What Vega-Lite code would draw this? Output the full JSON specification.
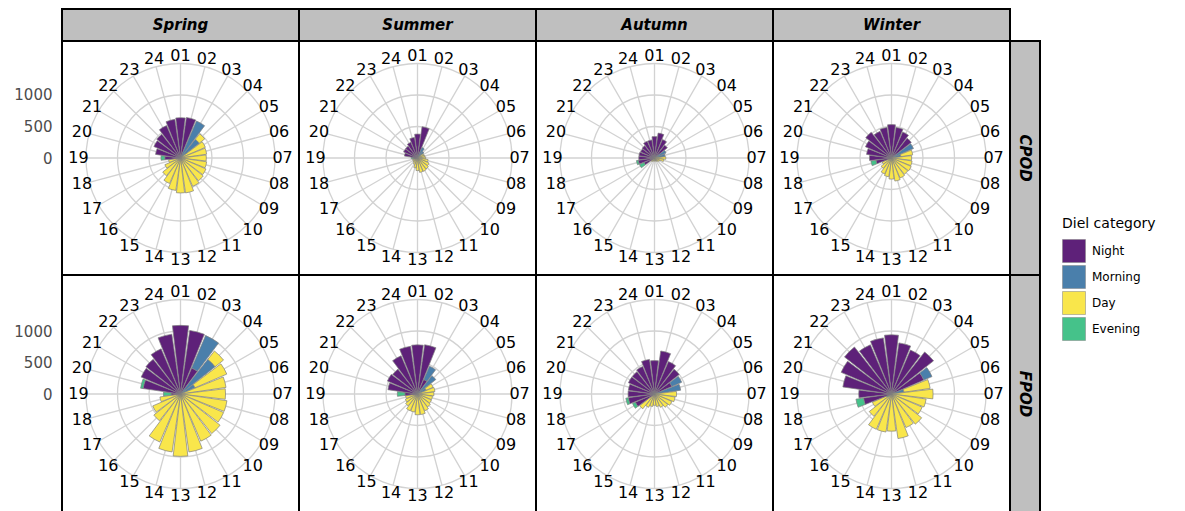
{
"$schema": "https://vega.github.io/schema/vega-lite/v6.json",
"background": "white",
"padding": {"left": 12, "top": 8, "right": 0, "bottom": 0},
"spacing": 0,
"bounds": "flush",
"columns": 5,
"config": {"view": {"stroke": null}, "font": "DejaVu Sans"},
"resolve": {"scale": {"color": "shared", "theta": "independent"}, "legend": {"color": "shared"}},
"datasets": {
"hours": [{"h":"01"},{"h":"02"},{"h":"03"},{"h":"04"},{"h":"05"},{"h":"06"},{"h":"07"},{"h":"08"},{"h":"09"},{"h":"10"},{"h":"11"},{"h":"12"},{"h":"13"},{"h":"14"},{"h":"15"},{"h":"16"},{"h":"17"},{"h":"18"},{"h":"19"},{"h":"20"},{"h":"21"},{"h":"22"},{"h":"23"},{"h":"24"}],
"rings": [{"r":500},{"r":1000},{"r":1500}],
"bars": [
{"s":"Spring","d":"CPOD","h":"01","c":"Night","n":640},{"s":"Spring","d":"CPOD","h":"02","c":"Night","n":650},{"s":"Spring","d":"CPOD","h":"03","c":"Morning","n":640},{"s":"Spring","d":"CPOD","h":"04","c":"Morning","n":380},{"s":"Spring","d":"CPOD","h":"04","c":"Day","n":110},{"s":"Spring","d":"CPOD","h":"05","c":"Day","n":430},{"s":"Spring","d":"CPOD","h":"06","c":"Day","n":420},{"s":"Spring","d":"CPOD","h":"07","c":"Day","n":410},{"s":"Spring","d":"CPOD","h":"08","c":"Day","n":420},{"s":"Spring","d":"CPOD","h":"09","c":"Day","n":440},{"s":"Spring","d":"CPOD","h":"10","c":"Day","n":460},{"s":"Spring","d":"CPOD","h":"11","c":"Day","n":490},{"s":"Spring","d":"CPOD","h":"12","c":"Day","n":560},{"s":"Spring","d":"CPOD","h":"13","c":"Day","n":555},{"s":"Spring","d":"CPOD","h":"14","c":"Day","n":520},{"s":"Spring","d":"CPOD","h":"15","c":"Day","n":440},{"s":"Spring","d":"CPOD","h":"16","c":"Day","n":360},{"s":"Spring","d":"CPOD","h":"17","c":"Day","n":270},{"s":"Spring","d":"CPOD","h":"18","c":"Day","n":190},{"s":"Spring","d":"CPOD","h":"19","c":"Night","n":250},{"s":"Spring","d":"CPOD","h":"19","c":"Evening","n":60},{"s":"Spring","d":"CPOD","h":"20","c":"Night","n":400},{"s":"Spring","d":"CPOD","h":"21","c":"Night","n":460},{"s":"Spring","d":"CPOD","h":"22","c":"Night","n":480},{"s":"Spring","d":"CPOD","h":"23","c":"Night","n":560},{"s":"Spring","d":"CPOD","h":"24","c":"Night","n":620},
{"s":"Summer","d":"CPOD","h":"01","c":"Night","n":380},{"s":"Summer","d":"CPOD","h":"02","c":"Night","n":500},{"s":"Summer","d":"CPOD","h":"03","c":"Morning","n":180},{"s":"Summer","d":"CPOD","h":"04","c":"Morning","n":130},{"s":"Summer","d":"CPOD","h":"05","c":"Day","n":110},{"s":"Summer","d":"CPOD","h":"06","c":"Day","n":120},{"s":"Summer","d":"CPOD","h":"07","c":"Day","n":130},{"s":"Summer","d":"CPOD","h":"08","c":"Day","n":170},{"s":"Summer","d":"CPOD","h":"09","c":"Day","n":200},{"s":"Summer","d":"CPOD","h":"10","c":"Day","n":220},{"s":"Summer","d":"CPOD","h":"11","c":"Day","n":230},{"s":"Summer","d":"CPOD","h":"12","c":"Day","n":230},{"s":"Summer","d":"CPOD","h":"13","c":"Day","n":200},{"s":"Summer","d":"CPOD","h":"14","c":"Day","n":160},{"s":"Summer","d":"CPOD","h":"15","c":"Day","n":110},{"s":"Summer","d":"CPOD","h":"16","c":"Day","n":90},{"s":"Summer","d":"CPOD","h":"17","c":"Day","n":80},{"s":"Summer","d":"CPOD","h":"18","c":"Day","n":80},{"s":"Summer","d":"CPOD","h":"19","c":"Night","n":60},{"s":"Summer","d":"CPOD","h":"19","c":"Evening","n":40},{"s":"Summer","d":"CPOD","h":"20","c":"Night","n":210},{"s":"Summer","d":"CPOD","h":"21","c":"Night","n":240},{"s":"Summer","d":"CPOD","h":"22","c":"Night","n":240},{"s":"Summer","d":"CPOD","h":"23","c":"Night","n":270},{"s":"Summer","d":"CPOD","h":"24","c":"Night","n":330},
{"s":"Autumn","d":"CPOD","h":"01","c":"Night","n":340},{"s":"Autumn","d":"CPOD","h":"02","c":"Night","n":400},{"s":"Autumn","d":"CPOD","h":"03","c":"Night","n":320},{"s":"Autumn","d":"CPOD","h":"04","c":"Night","n":260},{"s":"Autumn","d":"CPOD","h":"05","c":"Morning","n":200},{"s":"Autumn","d":"CPOD","h":"06","c":"Morning","n":170},{"s":"Autumn","d":"CPOD","h":"07","c":"Day","n":180},{"s":"Autumn","d":"CPOD","h":"08","c":"Day","n":150},{"s":"Autumn","d":"CPOD","h":"09","c":"Day","n":90},{"s":"Autumn","d":"CPOD","h":"10","c":"Day","n":70},{"s":"Autumn","d":"CPOD","h":"11","c":"Day","n":60},{"s":"Autumn","d":"CPOD","h":"12","c":"Day","n":50},{"s":"Autumn","d":"CPOD","h":"13","c":"Day","n":50},{"s":"Autumn","d":"CPOD","h":"14","c":"Day","n":50},{"s":"Autumn","d":"CPOD","h":"15","c":"Day","n":60},{"s":"Autumn","d":"CPOD","h":"16","c":"Day","n":70},{"s":"Autumn","d":"CPOD","h":"17","c":"Night","n":180},{"s":"Autumn","d":"CPOD","h":"17","c":"Evening","n":80},{"s":"Autumn","d":"CPOD","h":"18","c":"Night","n":260},{"s":"Autumn","d":"CPOD","h":"18","c":"Evening","n":30},{"s":"Autumn","d":"CPOD","h":"19","c":"Night","n":250},{"s":"Autumn","d":"CPOD","h":"20","c":"Night","n":250},{"s":"Autumn","d":"CPOD","h":"21","c":"Night","n":240},{"s":"Autumn","d":"CPOD","h":"22","c":"Night","n":250},{"s":"Autumn","d":"CPOD","h":"23","c":"Night","n":290},{"s":"Autumn","d":"CPOD","h":"24","c":"Night","n":290},
{"s":"Winter","d":"CPOD","h":"01","c":"Night","n":530},{"s":"Winter","d":"CPOD","h":"02","c":"Night","n":490},{"s":"Winter","d":"CPOD","h":"03","c":"Night","n":450},{"s":"Winter","d":"CPOD","h":"04","c":"Night","n":400},{"s":"Winter","d":"CPOD","h":"05","c":"Morning","n":380},{"s":"Winter","d":"CPOD","h":"06","c":"Morning","n":150},{"s":"Winter","d":"CPOD","h":"06","c":"Day","n":190},{"s":"Winter","d":"CPOD","h":"07","c":"Day","n":320},{"s":"Winter","d":"CPOD","h":"08","c":"Day","n":330},{"s":"Winter","d":"CPOD","h":"09","c":"Day","n":340},{"s":"Winter","d":"CPOD","h":"10","c":"Day","n":330},{"s":"Winter","d":"CPOD","h":"11","c":"Day","n":345},{"s":"Winter","d":"CPOD","h":"12","c":"Day","n":370},{"s":"Winter","d":"CPOD","h":"13","c":"Day","n":335},{"s":"Winter","d":"CPOD","h":"14","c":"Day","n":300},{"s":"Winter","d":"CPOD","h":"15","c":"Day","n":275},{"s":"Winter","d":"CPOD","h":"16","c":"Day","n":210},{"s":"Winter","d":"CPOD","h":"17","c":"Day","n":160},{"s":"Winter","d":"CPOD","h":"18","c":"Night","n":250},{"s":"Winter","d":"CPOD","h":"18","c":"Evening","n":80},{"s":"Winter","d":"CPOD","h":"19","c":"Night","n":350},{"s":"Winter","d":"CPOD","h":"20","c":"Night","n":400},{"s":"Winter","d":"CPOD","h":"21","c":"Night","n":450},{"s":"Winter","d":"CPOD","h":"22","c":"Night","n":520},{"s":"Winter","d":"CPOD","h":"23","c":"Night","n":460},{"s":"Winter","d":"CPOD","h":"24","c":"Night","n":490},
{"s":"Spring","d":"FPOD","h":"01","c":"Night","n":1090},{"s":"Spring","d":"FPOD","h":"02","c":"Night","n":1020},{"s":"Spring","d":"FPOD","h":"03","c":"Night","n":450},{"s":"Spring","d":"FPOD","h":"03","c":"Morning","n":560},{"s":"Spring","d":"FPOD","h":"04","c":"Morning","n":700},{"s":"Spring","d":"FPOD","h":"04","c":"Day","n":170},{"s":"Spring","d":"FPOD","h":"05","c":"Morning","n":250},{"s":"Spring","d":"FPOD","h":"05","c":"Day","n":550},{"s":"Spring","d":"FPOD","h":"06","c":"Day","n":730},{"s":"Spring","d":"FPOD","h":"07","c":"Day","n":715},{"s":"Spring","d":"FPOD","h":"08","c":"Day","n":745},{"s":"Spring","d":"FPOD","h":"09","c":"Day","n":745},{"s":"Spring","d":"FPOD","h":"10","c":"Day","n":800},{"s":"Spring","d":"FPOD","h":"11","c":"Day","n":815},{"s":"Spring","d":"FPOD","h":"12","c":"Day","n":930},{"s":"Spring","d":"FPOD","h":"13","c":"Day","n":990},{"s":"Spring","d":"FPOD","h":"14","c":"Day","n":930},{"s":"Spring","d":"FPOD","h":"15","c":"Day","n":830},{"s":"Spring","d":"FPOD","h":"16","c":"Day","n":540},{"s":"Spring","d":"FPOD","h":"17","c":"Day","n":480},{"s":"Spring","d":"FPOD","h":"18","c":"Day","n":330},{"s":"Spring","d":"FPOD","h":"19","c":"Night","n":150},{"s":"Spring","d":"FPOD","h":"19","c":"Evening","n":120},{"s":"Spring","d":"FPOD","h":"20","c":"Night","n":600},{"s":"Spring","d":"FPOD","h":"20","c":"Evening","n":40},{"s":"Spring","d":"FPOD","h":"21","c":"Night","n":680},{"s":"Spring","d":"FPOD","h":"22","c":"Night","n":700},{"s":"Spring","d":"FPOD","h":"23","c":"Night","n":780},{"s":"Spring","d":"FPOD","h":"24","c":"Night","n":960},
{"s":"Summer","d":"FPOD","h":"01","c":"Night","n":780},{"s":"Summer","d":"FPOD","h":"02","c":"Night","n":790},{"s":"Summer","d":"FPOD","h":"03","c":"Night","n":250},{"s":"Summer","d":"FPOD","h":"03","c":"Morning","n":230},{"s":"Summer","d":"FPOD","h":"04","c":"Morning","n":370},{"s":"Summer","d":"FPOD","h":"05","c":"Morning","n":150},{"s":"Summer","d":"FPOD","h":"05","c":"Day","n":120},{"s":"Summer","d":"FPOD","h":"06","c":"Day","n":280},{"s":"Summer","d":"FPOD","h":"07","c":"Day","n":260},{"s":"Summer","d":"FPOD","h":"08","c":"Day","n":240},{"s":"Summer","d":"FPOD","h":"09","c":"Day","n":240},{"s":"Summer","d":"FPOD","h":"10","c":"Day","n":260},{"s":"Summer","d":"FPOD","h":"11","c":"Day","n":290},{"s":"Summer","d":"FPOD","h":"12","c":"Day","n":330},{"s":"Summer","d":"FPOD","h":"13","c":"Day","n":330},{"s":"Summer","d":"FPOD","h":"14","c":"Day","n":290},{"s":"Summer","d":"FPOD","h":"15","c":"Day","n":290},{"s":"Summer","d":"FPOD","h":"16","c":"Day","n":240},{"s":"Summer","d":"FPOD","h":"17","c":"Day","n":210},{"s":"Summer","d":"FPOD","h":"18","c":"Day","n":190},{"s":"Summer","d":"FPOD","h":"19","c":"Night","n":200},{"s":"Summer","d":"FPOD","h":"19","c":"Evening","n":120},{"s":"Summer","d":"FPOD","h":"20","c":"Night","n":475},{"s":"Summer","d":"FPOD","h":"21","c":"Night","n":520},{"s":"Summer","d":"FPOD","h":"22","c":"Night","n":500},{"s":"Summer","d":"FPOD","h":"23","c":"Night","n":660},{"s":"Summer","d":"FPOD","h":"24","c":"Night","n":765},
{"s":"Autumn","d":"FPOD","h":"01","c":"Night","n":530},{"s":"Autumn","d":"FPOD","h":"02","c":"Night","n":690},{"s":"Autumn","d":"FPOD","h":"03","c":"Night","n":560},{"s":"Autumn","d":"FPOD","h":"04","c":"Night","n":500},{"s":"Autumn","d":"FPOD","h":"05","c":"Night","n":300},{"s":"Autumn","d":"FPOD","h":"05","c":"Morning","n":170},{"s":"Autumn","d":"FPOD","h":"06","c":"Morning","n":420},{"s":"Autumn","d":"FPOD","h":"07","c":"Day","n":350},{"s":"Autumn","d":"FPOD","h":"08","c":"Day","n":330},{"s":"Autumn","d":"FPOD","h":"09","c":"Day","n":300},{"s":"Autumn","d":"FPOD","h":"10","c":"Day","n":270},{"s":"Autumn","d":"FPOD","h":"11","c":"Day","n":230},{"s":"Autumn","d":"FPOD","h":"12","c":"Day","n":200},{"s":"Autumn","d":"FPOD","h":"13","c":"Day","n":180},{"s":"Autumn","d":"FPOD","h":"14","c":"Day","n":200},{"s":"Autumn","d":"FPOD","h":"15","c":"Day","n":230},{"s":"Autumn","d":"FPOD","h":"16","c":"Day","n":300},{"s":"Autumn","d":"FPOD","h":"17","c":"Night","n":330},{"s":"Autumn","d":"FPOD","h":"17","c":"Evening","n":50},{"s":"Autumn","d":"FPOD","h":"18","c":"Night","n":420},{"s":"Autumn","d":"FPOD","h":"18","c":"Evening","n":40},{"s":"Autumn","d":"FPOD","h":"19","c":"Night","n":420},{"s":"Autumn","d":"FPOD","h":"20","c":"Night","n":420},{"s":"Autumn","d":"FPOD","h":"21","c":"Night","n":450},{"s":"Autumn","d":"FPOD","h":"22","c":"Night","n":450},{"s":"Autumn","d":"FPOD","h":"23","c":"Night","n":475},{"s":"Autumn","d":"FPOD","h":"24","c":"Night","n":555},
{"s":"Winter","d":"FPOD","h":"01","c":"Night","n":940},{"s":"Winter","d":"FPOD","h":"02","c":"Night","n":820},{"s":"Winter","d":"FPOD","h":"03","c":"Night","n":760},{"s":"Winter","d":"FPOD","h":"04","c":"Night","n":850},{"s":"Winter","d":"FPOD","h":"05","c":"Night","n":560},{"s":"Winter","d":"FPOD","h":"05","c":"Morning","n":140},{"s":"Winter","d":"FPOD","h":"06","c":"Morning","n":200},{"s":"Winter","d":"FPOD","h":"06","c":"Day","n":420},{"s":"Winter","d":"FPOD","h":"07","c":"Day","n":660},{"s":"Winter","d":"FPOD","h":"08","c":"Day","n":555},{"s":"Winter","d":"FPOD","h":"09","c":"Day","n":530},{"s":"Winter","d":"FPOD","h":"10","c":"Day","n":610},{"s":"Winter","d":"FPOD","h":"11","c":"Day","n":580},{"s":"Winter","d":"FPOD","h":"12","c":"Day","n":715},{"s":"Winter","d":"FPOD","h":"13","c":"Day","n":590},{"s":"Winter","d":"FPOD","h":"14","c":"Day","n":610},{"s":"Winter","d":"FPOD","h":"15","c":"Day","n":610},{"s":"Winter","d":"FPOD","h":"16","c":"Day","n":450},{"s":"Winter","d":"FPOD","h":"17","c":"Day","n":250},{"s":"Winter","d":"FPOD","h":"17","c":"Evening","n":80},{"s":"Winter","d":"FPOD","h":"18","c":"Night","n":450},{"s":"Winter","d":"FPOD","h":"18","c":"Evening","n":120},{"s":"Winter","d":"FPOD","h":"19","c":"Night","n":520},{"s":"Winter","d":"FPOD","h":"20","c":"Night","n":780},{"s":"Winter","d":"FPOD","h":"21","c":"Night","n":870},{"s":"Winter","d":"FPOD","h":"22","c":"Night","n":950},{"s":"Winter","d":"FPOD","h":"23","c":"Night","n":850},{"s":"Winter","d":"FPOD","h":"24","c":"Night","n":900}
]
},
"concat": [
{"width": 237, "height": 32, "view": {"fill": "#bfbfbf", "stroke": "black", "strokeWidth": 2}, "data": {"values": [{"t": "Spring"}]}, "mark": {"type": "text", "font": "DejaVu Sans", "fontSize": 15, "fontWeight": "bold", "fontStyle": "italic", "color": "black"}, "encoding": {"text": {"field": "t"}}},
{"width": 237, "height": 32, "view": {"fill": "#bfbfbf", "stroke": "black", "strokeWidth": 2}, "data": {"values": [{"t": "Summer"}]}, "mark": {"type": "text", "font": "DejaVu Sans", "fontSize": 15, "fontWeight": "bold", "fontStyle": "italic", "color": "black"}, "encoding": {"text": {"field": "t"}}},
{"width": 237, "height": 32, "view": {"fill": "#bfbfbf", "stroke": "black", "strokeWidth": 2}, "data": {"values": [{"t": "Autumn"}]}, "mark": {"type": "text", "font": "DejaVu Sans", "fontSize": 15, "fontWeight": "bold", "fontStyle": "italic", "color": "black"}, "encoding": {"text": {"field": "t"}}},
{"width": 237, "height": 32, "view": {"fill": "#bfbfbf", "stroke": "black", "strokeWidth": 2}, "data": {"values": [{"t": "Winter"}]}, "mark": {"type": "text", "font": "DejaVu Sans", "fontSize": 15, "fontWeight": "bold", "fontStyle": "italic", "color": "black"}, "encoding": {"text": {"field": "t"}}},
{"width": 30, "height": 32, "view": {"stroke": null}, "data": {"values": [{"t": ""}]}, "mark": {"type": "text"}, "encoding": {"text": {"field": "t"}}},

{"width": 237, "height": 234, "view": {"stroke": "black", "strokeWidth": 2}, "resolve": {"scale": {"theta": "independent"}},
 "layer": [
  {"data": {"name": "rings"}, "mark": {"type": "point", "opacity": 0}, "encoding": {"y": {"field": "r", "type": "quantitative", "scale": {"domain": [-1857, 1857], "nice": false, "zero": false}, "axis": {"values": [0, 500, 1000], "format": "d", "title": null, "grid": false, "domain": false, "ticks": false, "labelFont": "DejaVu Sans", "labelFontSize": 15, "labelColor": "#4d4d4d", "labelPadding": 10}}}},
  {"data": {"name": "rings"}, "mark": {"type": "arc", "filled": false, "stroke": "#d2d2d2", "strokeWidth": 1.3}, "encoding": {"radius": {"field": "r", "type": "quantitative", "scale": {"type": "linear", "domain": [0, 1500], "range": [0, 94.5], "nice": false, "zero": true}}, "radius2": {"field": "r"}}},
  {"data": {"name": "hours"}, "mark": {"type": "arc", "filled": false, "stroke": "#d2d2d2", "strokeWidth": 1.3}, "encoding": {"theta": {"field": "h", "type": "ordinal", "scale": {"type": "point", "range": [0, 6.02139], "padding": 0}}, "theta2": {"field": "h"}, "radius": {"datum": 1500}, "radius2": {"datum": 0}}},
  {"data": {"name": "bars"}, "transform": [{"filter": "datum.s == 'Spring' && datum.d == 'CPOD'"}], "mark": {"type": "arc", "stroke": "#808080", "strokeWidth": 0.7}, "encoding": {"theta": {"field": "h", "type": "ordinal", "scale": {"type": "band", "domain": ["01","02","03","04","05","06","07","08","09","10","11","12","13","14","15","16","17","18","19","20","21","22","23","24"], "range": [-0.1309, 6.1523], "paddingInner": 0.1, "paddingOuter": 0.05}}, "radius": {"field": "n", "type": "quantitative", "stack": "zero"}, "order": {"field": "c", "sort": "descending"}, "color": {"field": "c", "type": "nominal", "title": "Diel category", "scale": {"domain": ["Night", "Morning", "Day", "Evening"], "range": ["#5e2179", "#4a7fab", "#f9e64b", "#45c28a"]}, "legend": {"orient": "none", "legendX": 1000, "legendY": 208, "symbolType": "square", "symbolSize": 529, "symbolStrokeColor": "#999999", "symbolStrokeWidth": 0.5, "rowPadding": 0, "labelFont": "DejaVu Sans", "labelFontSize": 12, "labelOffset": 6, "titleFont": "DejaVu Sans", "titleFontSize": 14, "titleFontWeight": "normal", "titleColor": "black", "labelColor": "black", "titlePadding": 8}}}},
  {"data": {"name": "hours"}, "mark": {"type": "text", "font": "DejaVu Sans", "fontSize": 16, "color": "#000000", "align": "center", "baseline": "middle"}, "encoding": {"theta": {"field": "h", "type": "ordinal", "scale": {"type": "point", "range": [0, 6.02139], "padding": 0}}, "radius": {"datum": 1620}, "text": {"field": "h"}}}
 ]},
{"width": 237, "height": 234, "view": {"stroke": "black", "strokeWidth": 2}, "resolve": {"scale": {"theta": "independent"}},
 "layer": [
  {"data": {"name": "rings"}, "mark": {"type": "arc", "filled": false, "stroke": "#d2d2d2", "strokeWidth": 1.3}, "encoding": {"radius": {"field": "r", "type": "quantitative", "scale": {"type": "linear", "domain": [0, 1500], "range": [0, 94.5], "nice": false, "zero": true}}, "radius2": {"field": "r"}}},
  {"data": {"name": "hours"}, "mark": {"type": "arc", "filled": false, "stroke": "#d2d2d2", "strokeWidth": 1.3}, "encoding": {"theta": {"field": "h", "type": "ordinal", "scale": {"type": "point", "range": [0, 6.02139], "padding": 0}}, "theta2": {"field": "h"}, "radius": {"datum": 1500}, "radius2": {"datum": 0}}},
  {"data": {"name": "bars"}, "transform": [{"filter": "datum.s == 'Summer' && datum.d == 'CPOD'"}], "mark": {"type": "arc", "stroke": "#808080", "strokeWidth": 0.7}, "encoding": {"theta": {"field": "h", "type": "ordinal", "scale": {"type": "band", "domain": ["01","02","03","04","05","06","07","08","09","10","11","12","13","14","15","16","17","18","19","20","21","22","23","24"], "range": [-0.1309, 6.1523], "paddingInner": 0.1, "paddingOuter": 0.05}}, "radius": {"field": "n", "type": "quantitative", "stack": "zero"}, "order": {"field": "c", "sort": "descending"}, "color": {"field": "c", "type": "nominal", "title": "Diel category", "scale": {"domain": ["Night", "Morning", "Day", "Evening"], "range": ["#5e2179", "#4a7fab", "#f9e64b", "#45c28a"]}}}},
  {"data": {"name": "hours"}, "mark": {"type": "text", "font": "DejaVu Sans", "fontSize": 16, "color": "#000000", "align": "center", "baseline": "middle"}, "encoding": {"theta": {"field": "h", "type": "ordinal", "scale": {"type": "point", "range": [0, 6.02139], "padding": 0}}, "radius": {"datum": 1620}, "text": {"field": "h"}}}
 ]},
{"width": 237, "height": 234, "view": {"stroke": "black", "strokeWidth": 2}, "resolve": {"scale": {"theta": "independent"}},
 "layer": [
  {"data": {"name": "rings"}, "mark": {"type": "arc", "filled": false, "stroke": "#d2d2d2", "strokeWidth": 1.3}, "encoding": {"radius": {"field": "r", "type": "quantitative", "scale": {"type": "linear", "domain": [0, 1500], "range": [0, 94.5], "nice": false, "zero": true}}, "radius2": {"field": "r"}}},
  {"data": {"name": "hours"}, "mark": {"type": "arc", "filled": false, "stroke": "#d2d2d2", "strokeWidth": 1.3}, "encoding": {"theta": {"field": "h", "type": "ordinal", "scale": {"type": "point", "range": [0, 6.02139], "padding": 0}}, "theta2": {"field": "h"}, "radius": {"datum": 1500}, "radius2": {"datum": 0}}},
  {"data": {"name": "bars"}, "transform": [{"filter": "datum.s == 'Autumn' && datum.d == 'CPOD'"}], "mark": {"type": "arc", "stroke": "#808080", "strokeWidth": 0.7}, "encoding": {"theta": {"field": "h", "type": "ordinal", "scale": {"type": "band", "domain": ["01","02","03","04","05","06","07","08","09","10","11","12","13","14","15","16","17","18","19","20","21","22","23","24"], "range": [-0.1309, 6.1523], "paddingInner": 0.1, "paddingOuter": 0.05}}, "radius": {"field": "n", "type": "quantitative", "stack": "zero"}, "order": {"field": "c", "sort": "descending"}, "color": {"field": "c", "type": "nominal", "title": "Diel category", "scale": {"domain": ["Night", "Morning", "Day", "Evening"], "range": ["#5e2179", "#4a7fab", "#f9e64b", "#45c28a"]}}}},
  {"data": {"name": "hours"}, "mark": {"type": "text", "font": "DejaVu Sans", "fontSize": 16, "color": "#000000", "align": "center", "baseline": "middle"}, "encoding": {"theta": {"field": "h", "type": "ordinal", "scale": {"type": "point", "range": [0, 6.02139], "padding": 0}}, "radius": {"datum": 1620}, "text": {"field": "h"}}}
 ]},
{"width": 237, "height": 234, "view": {"stroke": "black", "strokeWidth": 2}, "resolve": {"scale": {"theta": "independent"}},
 "layer": [
  {"data": {"name": "rings"}, "mark": {"type": "arc", "filled": false, "stroke": "#d2d2d2", "strokeWidth": 1.3}, "encoding": {"radius": {"field": "r", "type": "quantitative", "scale": {"type": "linear", "domain": [0, 1500], "range": [0, 94.5], "nice": false, "zero": true}}, "radius2": {"field": "r"}}},
  {"data": {"name": "hours"}, "mark": {"type": "arc", "filled": false, "stroke": "#d2d2d2", "strokeWidth": 1.3}, "encoding": {"theta": {"field": "h", "type": "ordinal", "scale": {"type": "point", "range": [0, 6.02139], "padding": 0}}, "theta2": {"field": "h"}, "radius": {"datum": 1500}, "radius2": {"datum": 0}}},
  {"data": {"name": "bars"}, "transform": [{"filter": "datum.s == 'Winter' && datum.d == 'CPOD'"}], "mark": {"type": "arc", "stroke": "#808080", "strokeWidth": 0.7}, "encoding": {"theta": {"field": "h", "type": "ordinal", "scale": {"type": "band", "domain": ["01","02","03","04","05","06","07","08","09","10","11","12","13","14","15","16","17","18","19","20","21","22","23","24"], "range": [-0.1309, 6.1523], "paddingInner": 0.1, "paddingOuter": 0.05}}, "radius": {"field": "n", "type": "quantitative", "stack": "zero"}, "order": {"field": "c", "sort": "descending"}, "color": {"field": "c", "type": "nominal", "title": "Diel category", "scale": {"domain": ["Night", "Morning", "Day", "Evening"], "range": ["#5e2179", "#4a7fab", "#f9e64b", "#45c28a"]}}}},
  {"data": {"name": "hours"}, "mark": {"type": "text", "font": "DejaVu Sans", "fontSize": 16, "color": "#000000", "align": "center", "baseline": "middle"}, "encoding": {"theta": {"field": "h", "type": "ordinal", "scale": {"type": "point", "range": [0, 6.02139], "padding": 0}}, "radius": {"datum": 1620}, "text": {"field": "h"}}}
 ]},
{"width": 30, "height": 234, "view": {"fill": "#bfbfbf", "stroke": "black", "strokeWidth": 2}, "data": {"values": [{"t": "CPOD"}]}, "mark": {"type": "text", "font": "DejaVu Sans", "fontSize": 15, "fontWeight": "bold", "fontStyle": "italic", "color": "black", "angle": 90}, "encoding": {"text": {"field": "t"}}},

{"width": 237, "height": 238, "view": {"stroke": "black", "strokeWidth": 2}, "resolve": {"scale": {"theta": "independent"}},
 "layer": [
  {"data": {"name": "rings"}, "mark": {"type": "point", "opacity": 0}, "encoding": {"y": {"field": "r", "type": "quantitative", "scale": {"domain": [-1889, 1889], "nice": false, "zero": false}, "axis": {"values": [0, 500, 1000], "format": "d", "title": null, "grid": false, "domain": false, "ticks": false, "labelFont": "DejaVu Sans", "labelFontSize": 15, "labelColor": "#4d4d4d", "labelPadding": 10}}}},
  {"data": {"name": "rings"}, "mark": {"type": "arc", "filled": false, "stroke": "#d2d2d2", "strokeWidth": 1.3}, "encoding": {"radius": {"field": "r", "type": "quantitative", "scale": {"type": "linear", "domain": [0, 1500], "range": [0, 94.5], "nice": false, "zero": true}}, "radius2": {"field": "r"}}},
  {"data": {"name": "hours"}, "mark": {"type": "arc", "filled": false, "stroke": "#d2d2d2", "strokeWidth": 1.3}, "encoding": {"theta": {"field": "h", "type": "ordinal", "scale": {"type": "point", "range": [0, 6.02139], "padding": 0}}, "theta2": {"field": "h"}, "radius": {"datum": 1500}, "radius2": {"datum": 0}}},
  {"data": {"name": "bars"}, "transform": [{"filter": "datum.s == 'Spring' && datum.d == 'FPOD'"}], "mark": {"type": "arc", "stroke": "#808080", "strokeWidth": 0.7}, "encoding": {"theta": {"field": "h", "type": "ordinal", "scale": {"type": "band", "domain": ["01","02","03","04","05","06","07","08","09","10","11","12","13","14","15","16","17","18","19","20","21","22","23","24"], "range": [-0.1309, 6.1523], "paddingInner": 0.1, "paddingOuter": 0.05}}, "radius": {"field": "n", "type": "quantitative", "stack": "zero"}, "order": {"field": "c", "sort": "descending"}, "color": {"field": "c", "type": "nominal", "title": "Diel category", "scale": {"domain": ["Night", "Morning", "Day", "Evening"], "range": ["#5e2179", "#4a7fab", "#f9e64b", "#45c28a"]}}}},
  {"data": {"name": "hours"}, "mark": {"type": "text", "font": "DejaVu Sans", "fontSize": 16, "color": "#000000", "align": "center", "baseline": "middle"}, "encoding": {"theta": {"field": "h", "type": "ordinal", "scale": {"type": "point", "range": [0, 6.02139], "padding": 0}}, "radius": {"datum": 1620}, "text": {"field": "h"}}}
 ]},
{"width": 237, "height": 238, "view": {"stroke": "black", "strokeWidth": 2}, "resolve": {"scale": {"theta": "independent"}},
 "layer": [
  {"data": {"name": "rings"}, "mark": {"type": "arc", "filled": false, "stroke": "#d2d2d2", "strokeWidth": 1.3}, "encoding": {"radius": {"field": "r", "type": "quantitative", "scale": {"type": "linear", "domain": [0, 1500], "range": [0, 94.5], "nice": false, "zero": true}}, "radius2": {"field": "r"}}},
  {"data": {"name": "hours"}, "mark": {"type": "arc", "filled": false, "stroke": "#d2d2d2", "strokeWidth": 1.3}, "encoding": {"theta": {"field": "h", "type": "ordinal", "scale": {"type": "point", "range": [0, 6.02139], "padding": 0}}, "theta2": {"field": "h"}, "radius": {"datum": 1500}, "radius2": {"datum": 0}}},
  {"data": {"name": "bars"}, "transform": [{"filter": "datum.s == 'Summer' && datum.d == 'FPOD'"}], "mark": {"type": "arc", "stroke": "#808080", "strokeWidth": 0.7}, "encoding": {"theta": {"field": "h", "type": "ordinal", "scale": {"type": "band", "domain": ["01","02","03","04","05","06","07","08","09","10","11","12","13","14","15","16","17","18","19","20","21","22","23","24"], "range": [-0.1309, 6.1523], "paddingInner": 0.1, "paddingOuter": 0.05}}, "radius": {"field": "n", "type": "quantitative", "stack": "zero"}, "order": {"field": "c", "sort": "descending"}, "color": {"field": "c", "type": "nominal", "title": "Diel category", "scale": {"domain": ["Night", "Morning", "Day", "Evening"], "range": ["#5e2179", "#4a7fab", "#f9e64b", "#45c28a"]}}}},
  {"data": {"name": "hours"}, "mark": {"type": "text", "font": "DejaVu Sans", "fontSize": 16, "color": "#000000", "align": "center", "baseline": "middle"}, "encoding": {"theta": {"field": "h", "type": "ordinal", "scale": {"type": "point", "range": [0, 6.02139], "padding": 0}}, "radius": {"datum": 1620}, "text": {"field": "h"}}}
 ]},
{"width": 237, "height": 238, "view": {"stroke": "black", "strokeWidth": 2}, "resolve": {"scale": {"theta": "independent"}},
 "layer": [
  {"data": {"name": "rings"}, "mark": {"type": "arc", "filled": false, "stroke": "#d2d2d2", "strokeWidth": 1.3}, "encoding": {"radius": {"field": "r", "type": "quantitative", "scale": {"type": "linear", "domain": [0, 1500], "range": [0, 94.5], "nice": false, "zero": true}}, "radius2": {"field": "r"}}},
  {"data": {"name": "hours"}, "mark": {"type": "arc", "filled": false, "stroke": "#d2d2d2", "strokeWidth": 1.3}, "encoding": {"theta": {"field": "h", "type": "ordinal", "scale": {"type": "point", "range": [0, 6.02139], "padding": 0}}, "theta2": {"field": "h"}, "radius": {"datum": 1500}, "radius2": {"datum": 0}}},
  {"data": {"name": "bars"}, "transform": [{"filter": "datum.s == 'Autumn' && datum.d == 'FPOD'"}], "mark": {"type": "arc", "stroke": "#808080", "strokeWidth": 0.7}, "encoding": {"theta": {"field": "h", "type": "ordinal", "scale": {"type": "band", "domain": ["01","02","03","04","05","06","07","08","09","10","11","12","13","14","15","16","17","18","19","20","21","22","23","24"], "range": [-0.1309, 6.1523], "paddingInner": 0.1, "paddingOuter": 0.05}}, "radius": {"field": "n", "type": "quantitative", "stack": "zero"}, "order": {"field": "c", "sort": "descending"}, "color": {"field": "c", "type": "nominal", "title": "Diel category", "scale": {"domain": ["Night", "Morning", "Day", "Evening"], "range": ["#5e2179", "#4a7fab", "#f9e64b", "#45c28a"]}}}},
  {"data": {"name": "hours"}, "mark": {"type": "text", "font": "DejaVu Sans", "fontSize": 16, "color": "#000000", "align": "center", "baseline": "middle"}, "encoding": {"theta": {"field": "h", "type": "ordinal", "scale": {"type": "point", "range": [0, 6.02139], "padding": 0}}, "radius": {"datum": 1620}, "text": {"field": "h"}}}
 ]},
{"width": 237, "height": 238, "view": {"stroke": "black", "strokeWidth": 2}, "resolve": {"scale": {"theta": "independent"}},
 "layer": [
  {"data": {"name": "rings"}, "mark": {"type": "arc", "filled": false, "stroke": "#d2d2d2", "strokeWidth": 1.3}, "encoding": {"radius": {"field": "r", "type": "quantitative", "scale": {"type": "linear", "domain": [0, 1500], "range": [0, 94.5], "nice": false, "zero": true}}, "radius2": {"field": "r"}}},
  {"data": {"name": "hours"}, "mark": {"type": "arc", "filled": false, "stroke": "#d2d2d2", "strokeWidth": 1.3}, "encoding": {"theta": {"field": "h", "type": "ordinal", "scale": {"type": "point", "range": [0, 6.02139], "padding": 0}}, "theta2": {"field": "h"}, "radius": {"datum": 1500}, "radius2": {"datum": 0}}},
  {"data": {"name": "bars"}, "transform": [{"filter": "datum.s == 'Winter' && datum.d == 'FPOD'"}], "mark": {"type": "arc", "stroke": "#808080", "strokeWidth": 0.7}, "encoding": {"theta": {"field": "h", "type": "ordinal", "scale": {"type": "band", "domain": ["01","02","03","04","05","06","07","08","09","10","11","12","13","14","15","16","17","18","19","20","21","22","23","24"], "range": [-0.1309, 6.1523], "paddingInner": 0.1, "paddingOuter": 0.05}}, "radius": {"field": "n", "type": "quantitative", "stack": "zero"}, "order": {"field": "c", "sort": "descending"}, "color": {"field": "c", "type": "nominal", "title": "Diel category", "scale": {"domain": ["Night", "Morning", "Day", "Evening"], "range": ["#5e2179", "#4a7fab", "#f9e64b", "#45c28a"]}}}},
  {"data": {"name": "hours"}, "mark": {"type": "text", "font": "DejaVu Sans", "fontSize": 16, "color": "#000000", "align": "center", "baseline": "middle"}, "encoding": {"theta": {"field": "h", "type": "ordinal", "scale": {"type": "point", "range": [0, 6.02139], "padding": 0}}, "radius": {"datum": 1620}, "text": {"field": "h"}}}
 ]},
{"width": 30, "height": 238, "view": {"fill": "#bfbfbf", "stroke": "black", "strokeWidth": 2}, "data": {"values": [{"t": "FPOD"}]}, "mark": {"type": "text", "font": "DejaVu Sans", "fontSize": 15, "fontWeight": "bold", "fontStyle": "italic", "color": "black", "angle": 90}, "encoding": {"text": {"field": "t"}}}
]
}
